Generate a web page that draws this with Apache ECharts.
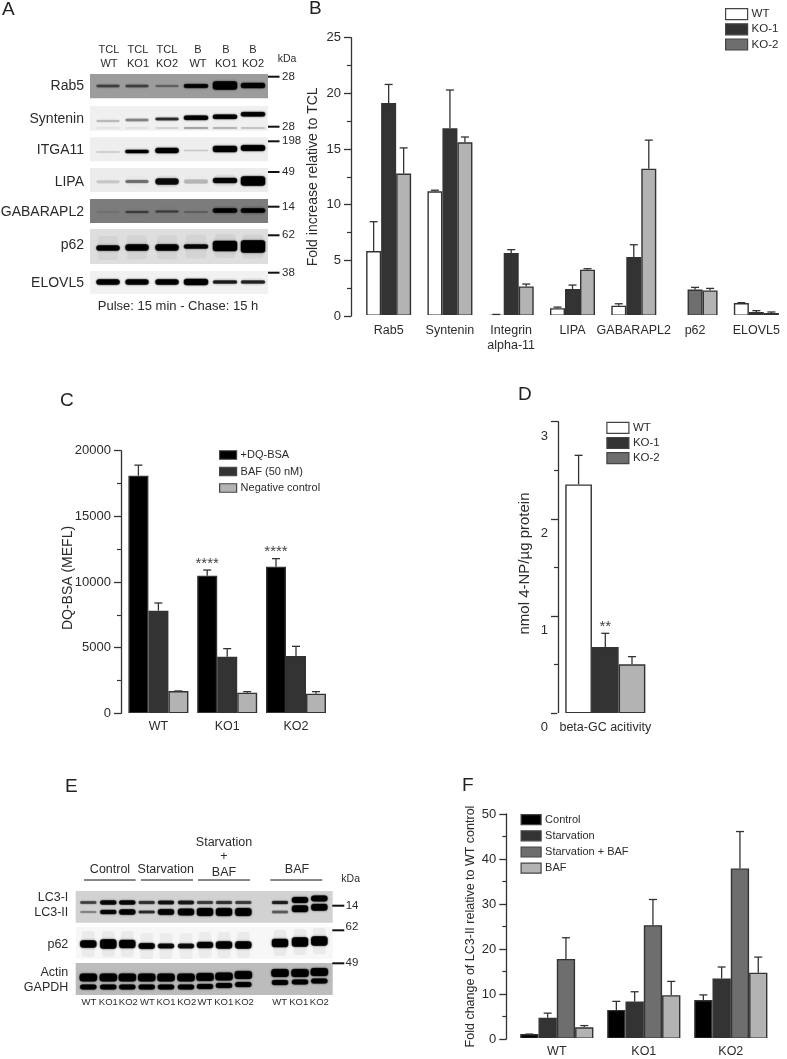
<!DOCTYPE html>
<html><head><meta charset="utf-8">
<style>html,body{margin:0;padding:0;background:#fff}#c{width:787px;height:1059px}</style>
<script src="https://cdn.jsdelivr.net/npm/echarts@6/dist/echarts.min.js"></script>
</head><body><div id="c"></div>
<script>
// ---------- DATA ----------
const bCats=['Rab5','Syntenin','Integrin\nalpha-11','LIPA','GABARAPL2','p62','ELOVL5'];
const bWT=[5.84,11.2,0.12,0.7,0.93,null,1.17];
const bKO1=[19.13,16.86,5.66,2.43,5.3,2.37,0.36];
const bKO2=[12.8,15.6,2.66,4.16,13.23,2.3,0.27];
const bWTHi=[8.47,11.3,0.14,0.8,1.1,null,1.2];
const bKO1Hi=[20.8,20.3,5.96,2.78,6.4,2.57,0.48];
const bKO2Hi=[15.1,16.08,2.87,4.25,15.8,2.48,0.36];

const cCats=['WT','KO1','KO2'];
const cDQ=[18096,10480,11170];
const cBAF=[7817,4315,4365];
const cNeg=[1700,1573,1497];
const cDQHi=[18900,10910,11780];
const cBAFHi=[8400,4924,5100];
const cNegHi=[1700,1650,1650];
const cStars=['','****','****'];

const dCats=['beta-GC acitivity'];
const dWT=[2.355];
const dKO1=[0.682];
const dKO2=[0.504];
const dWTHi=[2.654];
const dKO1Hi=[0.823];
const dKO2Hi=[0.583];
const dStarsKO1=['**'];

const fCats=['WT','KO1','KO2'];
const fControl=[1.09,6.47,8.65];
const fStarv=[4.72,8.36,13.44];
const fStarvBAF=[17.8,25.3,37.9];
const fBAF=[2.6,9.74,14.75];
const fControlHi=[1.09,8.36,9.8];
const fStarvHi=[5.74,10.5,16];
const fStarvBAFHi=[22.5,31,46.1];
const fBAFHi=[2.98,12.8,18.2];

// blot labels and band intensities (0..1, per lane)
const aLanesTop=['TCL','TCL','TCL','B','B','B'];
const aLanesBottom=['WT','KO1','KO2','WT','KO1','KO2'];
const aRows=['Rab5','Syntenin','ITGA11','LIPA','GABARAPL2','p62','ELOVL5'];
const aKda=['28','28','198','49','14','62','38'];
const aRab5=[.4,.4,.25,.9,1,.95];
const aSyntenin=[.15,.3,.6,1,1,1];
const aITGA11=[.1,1,1,.1,1,1];
const aLIPA=[.1,.35,.8,.15,.85,1];
const aGABARAPL2=[.05,.35,.35,.15,.95,.95];
const aP62=[.9,.95,.95,.85,1,1];
const aELOVL5=[.95,.9,.95,.95,.7,.65];
const eLanes=['WT','KO1','KO2','WT','KO1','KO2','WT','KO1','KO2','WT','KO1','KO2'];
const eLC3I=[.5,.85,.85,.55,.75,.7,.5,.55,.5,.65,1,1];
const eLC3II=[.25,.85,.95,.6,.9,.95,1,1,1,.4,.95,.95];
const eP62=[.95,1,.95,.9,.85,.8,.9,.95,.95,1,1,1];
const eActin=[1,1,1,1,1,1,1,1,1,1,1,1];
const eGAPDH=[1,1,1,1,1,1,1,1,1,1,1,1];

// ---------- STYLE ----------
const FONT='"Liberation Sans",Arial,sans-serif', INK='#2b2b2b';
const WHITE='#ffffff',DARK='#333333',MID='#6e6e6e',LIGHT='#b3b3b3',BLACK='#000000';

function barSeries(name,vals,color,g,w,border){
  return {type:'bar',name,data:vals,xAxisIndex:g,yAxisIndex:g,barWidth:w,barGap:0,z:2,silent:true,
    itemStyle:{color,borderColor:border||'#333',borderWidth:1.4}};
}
function errSeries(g,vals,his,w,stars,starGap){
  const n=vals.length,data=[];
  vals.forEach((arr,s)=>arr.forEach((v,c)=>{ if(v!=null) data.push([c,s,his[s][c],v,(stars&&stars[s]&&stars[s][c])||'']); }));
  return {type:'custom',name:'err'+g,xAxisIndex:g,yAxisIndex:g,silent:true,z:4,clip:false,data,
    encode:{x:0,y:2},
    renderItem(p,api){
      const c=api.value(0),s=api.value(1),t=api.coord([c,api.value(2)]),b=api.coord([c,api.value(3)]);
      const x=t[0]+(s-(n-1)/2)*w, st={stroke:'#333',lineWidth:1.3};
      const kids=[
        {type:'line',shape:{x1:x,y1:b[1],x2:x,y2:t[1]},style:st},
        {type:'line',shape:{x1:x-4,y1:t[1],x2:x+4,y2:t[1]},style:st}];
      const star=data[p.dataIndex][4];
      if(star) kids.push({type:'text',style:{text:star,x,y:t[1]+starGap,align:'center',verticalAlign:'bottom',
        font:'15px '+FONT,fill:'#444'}});
      return {type:'group',children:kids};
    }};
}
function yAx(g,max,interval,minorSplit,offset,name,nameGap,nameSize,labelSize,namePad,extraLabel){
  return {type:'value',gridIndex:g,min:0,max,interval,offset,position:'left',
    name,nameLocation:'middle',nameGap,nameRotate:90,nameMoveOverlap:false,
    nameTextStyle:{fontFamily:FONT,fontSize:nameSize,color:INK,padding:namePad||0},
    splitLine:{show:false},
    axisLine:{show:true,onZero:false,lineStyle:{color:'#333',width:1.3}},
    axisTick:{show:true,length:7,lineStyle:{color:'#333',width:1.3}},
    minorTick:{show:true,splitNumber:minorSplit,length:4,lineStyle:{color:'#333',width:1.2}},
    axisLabel:Object.assign({fontFamily:FONT,fontSize:labelSize,color:INK,margin:10,formatter:v=>String(v)},extraLabel||{})};
}
function xAx(g,data,size,margin){
  return {type:'category',gridIndex:g,data,z:3,
    axisLine:{show:true,lineStyle:{color:'#fff',width:2}},axisTick:{show:false},
    axisLabel:{interval:0,fontFamily:FONT,fontSize:size,color:INK,margin,lineHeight:15}};
}
function legend(names,colors,left,top,w,h,gap,size){
  return {orient:'vertical',left,top,padding:0,itemWidth:w,itemHeight:h,itemGap:gap,selectedMode:false,icon:'rect',
    data:names.map((n,i)=>({name:n,itemStyle:{color:colors[i],borderColor:'#444',borderWidth:1.2}})),
    textStyle:{fontFamily:FONT,fontSize:size,color:INK,padding:[0,0,0,-1]}};
}

// ---------- BLOT DRAWING ----------
const gfx=[];
function txt(t,x,y,size,align){
  gfx.push({type:'text',x,y,z:20,style:{text:t,font:size+'px '+FONT,fill:INK,align:align||'left',verticalAlign:'middle'}});
}
function rect(x,y,w,h,fill,blur){
  gfx.push({type:'rect',z:blur?6:5,shape:{x,y,width:w,height:h,r:blur?Math.min(h/2,3):0},
    style:{fill,shadowBlur:blur||0,shadowColor:blur?fill:'transparent'}});
}
function line(x1,y1,x2,y2,w,c){
  gfx.push({type:'line',z:10,shape:{x1,y1,x2,y2},style:{stroke:c||'#111',lineWidth:w}});
}
function band(cx,cy,w,h,a,smear){
  if(a<=0) return;
  if(smear) rect(cx-w/2+2,cy-smear,w-4,smear*2,'rgba(0,0,0,'+(a*.05).toFixed(3)+')',9);
  rect(cx-w/2,cy-h/2-.5,w,h+1,'rgba(0,0,0,'+(a*.45).toFixed(3)+')',3);
  rect(cx-w/2+.5,cy-h/2,w-1,h,'rgba(0,0,0,'+Math.min(1,a).toFixed(3)+')',1.5);
}

// Panel A blots
const aX=[108,137,167,196,225,253];
rect(90,74,178,24.3,'#9c9c9c');
rect(90,106,178,24.7,'#f0f0f0');
rect(90,137.3,178,24,'#eeeeee');
rect(90,168,178,24,'#ececec');
rect(90,199,178,24,'#7c7c7c');
rect(90,229,178,35,'#dedede');
rect(90,271,178,23,'#f1f1f1');
const aW=[24,24,24,25,25,25];
aRab5.forEach((a,i)=>band(aX[i],86+(i>3?-.5:0),aW[i],[2.5,2.5,2,3.5,8,5][i],a,3));
aSyntenin.forEach((a,i)=>band(aX[i],[121,120,119,117.7,116.7,114.3][i],aW[i],[2,2.5,2.5,4,4,4][i],a,3));
[.04,.05,.1,.25,.2,.15].forEach((a,i)=>band(aX[i],128,aW[i],1.5,a));
aITGA11.forEach((a,i)=>band(aX[i],[152,151.5,150.5,150.5,149,148][i],aW[i],[1.5,3,5,1.5,6,5.5][i],a));
aLIPA.forEach((a,i)=>band(aX[i],[181.7,181.5,181.5,181.5,180.5,181][i],aW[i],[3,3,6,4,5,9][i],a,6));
aGABARAPL2.forEach((a,i)=>band(aX[i],[212,212,211.5,212,210.5,210.5][i],aW[i],[2,2,2,2,4,4][i],a,5));
aP62.forEach((a,i)=>band(aX[i],[248,247.5,247.5,246.5,246,246.5][i],aW[i],[5,6,6,4,10,12][i],a,12));
aELOVL5.forEach((a,i)=>band(aX[i],282,aW[i],[5,5,5,6,3,3][i],a,4));
aLanesTop.forEach((t,i)=>{txt(t,[109,138,167,198,226,253][i],50,11,'center');txt(aLanesBottom[i],[109,138,167,198,226,253][i],64,11,'center');});
txt('kDa',287,59,10.5,'center');
aRows.forEach((t,i)=>txt(t,84,[86,119,150,181.7,212,245,283][i],14,'right'));
aKda.forEach((t,i)=>{const y=[76.7,126.7,141.3,172,206.7,235.3,272.7][i];line(268,y,279.5,y,2);txt(t,282,y,11.5,'left');});
txt('Pulse: 15 min - Chase: 15 h',178,306,13,'center');

// Panel E blots
const eX=[88.3,108.3,127.3,146.7,166,186,205,224,243.3,280,300,319.3];
const eDy=[0,0,0,0,0,0,0,0,0,0,-2,-3];
rect(75.7,891,257,31.7,'#d2d2d2');
rect(75.7,927,257,32,'#f7f7f7');
rect(75.7,963,257,32,'#bcbcbc');
eLC3I.forEach((a,i)=>band(eX[i],902.5+eDy[i]*1.3,17,[2.5,4,4,3,3.5,3.5,3,3,3,3,5.5,5.5][i],a));
eLC3II.forEach((a,i)=>band(eX[i],912+eDy[i]*1.6,17,[2,4,5,2.5,5.5,6.5,7.5,7.5,7.5,2.5,6.5,6.5][i],a));
eP62.forEach((a,i)=>band(eX[i],[944,944,944,946,946,946,945,945,945,943,942,941][i],17,[7,9,8,5.5,4.5,4.5,6,7,7,8,9,9][i],a,13));
eActin.forEach((a,i)=>band(eX[i],[977.5,977.5,977.5,977.5,977.5,977.5,977,976.5,975,973,973,972][i],18,7.5,a));
eGAPDH.forEach((a,i)=>band(eX[i],[987,987,987,987,987,987,986.5,985.5,984.5,982.5,982,981][i],17,4.5,a));
eLanes.forEach((t,i)=>txt(t,[89,108.3,128.3,147.3,166,186.7,205,223.7,244.3,279.7,298.7,319.3][i],1002.3,9.5,'center'));
[['Control',110,869.7],['Starvation',165.7,869.7],['Starvation',224,842.7],['+',224,857],['BAF',224,872.7],['BAF',297,869.7]]
  .forEach(r=>txt(r[0],r[1],r[2],12.5,'center'));
[[84,135.7],[141,193],[198,250],[270.3,322.3]].forEach(r=>line(r[0],880,r[1],880,1));
txt('kDa',350.7,878.7,10.5,'center');
line(332.3,905.7,344.3,905.7,2);txt('14',345.7,905.7,11.5);
line(332.3,930.3,344.3,930.3,2);txt('62',345.5,927,11.5);
line(332.3,963.3,344.3,963.3,2);txt('49',345.5,963,11.5);
[['LC3-I',897.7],['LC3-II',913],['p62',944.3],['Actin',972.7],['GAPDH',987.3]].forEach(r=>txt(r[0],68.3,r[1],12.5,'right'));

// Panel letters
[['A',2,10],['B',309,9],['C',60,401],['D',518,395],['E',65,787],['F',462,786]].forEach(r=>{
  gfx.push({type:'text',x:r[1],y:r[2],z:20,style:{text:r[0],font:'19px '+FONT,fill:'#222',verticalAlign:'middle'}});
});

// ---------- CHART ----------
const bW=15,cW=20,dW=26.7,fW=18.3;
const bKO1Items=bKO1.map((v,i)=>bCats[i]==='p62'?{value:v,itemStyle:{color:MID}}:v);
const option={
  animation:false,backgroundColor:'#fff',textStyle:{fontFamily:FONT},
  graphic:{elements:gfx},
  grid:[
    {left:358,top:37.7,width:430.5,height:278.3},
    {left:124,top:450.7,width:206.4,height:262.6},
    {left:558,top:421.7,width:94.6,height:291.6},
    {left:513.3,top:814,width:261,height:229.3}
  ],
  xAxis:[xAx(0,bCats,12.5,7),xAx(1,cCats,12.5,6),xAx(2,dCats,12.5,7),xAx(3,fCats,12.5,5)],
  yAxis:[
    yAx(0,25,5,2,7,'Fold increase relative to TCL',31,14,13),
    yAx(1,20000,5000,2,3,'DQ-BSA (MEFL)',46,14,13,[0,0,0,8]),
    yAx(2,3,1,2,0,'nmol 4-NP/\u00b5g protein',26,15,13,[0,0,0,8],{margin:10,verticalAlign:'top',padding:[8,0,0,0]}),
    yAx(3,50,10,2,7,'Fold change of LC3-II relative to WT control',29,12.5,13)
  ],
  legend:[
    legend(['WT','KO-1','KO-2'],[WHITE,DARK,MID],725,8,22,11,3,11.5),
    legend(['+DQ-BSA','BAF (50 nM)','Negative control'],[BLACK,DARK,LIGHT],219,449.5,17,8.5,5.5,11),
    legend(['WT','KO-1','KO-2'],[WHITE,DARK,MID],606.3,421.7,22,11,3,11.5),
    legend(['Control','Starvation','Starvation + BAF','BAF'],[BLACK,DARK,MID,LIGHT],520.5,814,20,10,5,11)
  ],
  series:[
    barSeries('WT',bWT,WHITE,0,bW),barSeries('KO-1',bKO1Items,DARK,0,bW),barSeries('KO-2',bKO2,LIGHT,0,bW),
    errSeries(0,[bWT,bKO1,bKO2],[bWTHi,bKO1Hi,bKO2Hi],bW),
    barSeries('+DQ-BSA',cDQ,BLACK,1,cW),barSeries('BAF (50 nM)',cBAF,DARK,1,cW),barSeries('Negative control',cNeg,LIGHT,1,cW),
    errSeries(1,[cDQ,cBAF,cNeg],[cDQHi,cBAFHi,cNegHi],cW,[cStars],1),
    barSeries('WT',dWT,WHITE,2,dW),barSeries('KO-1',dKO1,DARK,2,dW),barSeries('KO-2',dKO2,LIGHT,2,dW),
    errSeries(2,[dWT,dKO1,dKO2],[dWTHi,dKO1Hi,dKO2Hi],dW,[null,dStarsKO1],1),
    barSeries('Control',fControl,BLACK,3,fW),barSeries('Starvation',fStarv,DARK,3,fW),barSeries('Starvation + BAF',fStarvBAF,MID,3,fW),barSeries('BAF',fBAF,LIGHT,3,fW),
    errSeries(3,[fControl,fStarv,fStarvBAF,fBAF],[fControlHi,fStarvHi,fStarvBAFHi,fBAFHi],fW)
  ]
};
echarts.init(document.getElementById('c'),null,{renderer:'canvas'}).setOption(option);
</script></body></html>
